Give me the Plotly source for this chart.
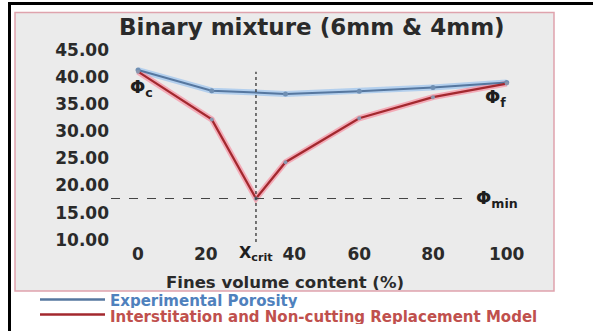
import plotly.graph_objects as go

# ---- data ----
fines_pct = [0, 20, 40, 60, 80, 100]
experimental_porosity = [41.3, 37.5, 36.9, 37.4, 38.1, 39.0]
model_x = [0, 20, 32, 40, 60, 80, 100]
model_porosity = [41.0, 32.2, 17.6, 24.3, 32.4, 36.3, 38.8]
x_crit = 32
phi_min = 17.6
phi_c_label_pos = (-2.6, 38.0)
phi_f_label_pos = (93.6, 36.2)
y_ticks = [10, 15, 20, 25, 30, 35, 40, 45]
x_ticks = [0, 20, 40, 60, 80, 100]
x_tick_labels = ["0", "20\u00a0\u00a0", "\u00a0\u00a0\u00a040", "60", "80", "100"]

title_text = "Binary mixture (6mm & 4mm)"
x_title = "Fines volume content (%)"
legend_names = ["Experimental Porosity", "Interstitation and Non-cutting Replacement Model"]

# ---- geometry (pixels) ----
W, H = 593, 331
L_PX, R_PX, T_PX, B_PX = 110, 529, 40, 242
X0_PX, X_SCALE = 138, 3.687      # px of x=0, px per unit
Y45_PX, Y_SCALE = 50, 5.42       # px of y=45, px per unit


def x_of_px(p):
    return (p - X0_PX) / X_SCALE


def y_of_px(p):
    return 45 - (p - Y45_PX) / Y_SCALE


def px_x(p):
    return (p - L_PX) / (R_PX - L_PX)


def px_y(p):
    return (B_PX - p) / (B_PX - T_PX)


FONT = "DejaVu Sans"
BLUE, BLUE_GLOW = "#56779f", "rgba(165,200,238,0.8)"
RED, RED_GLOW = "#a3282e", "rgba(245,150,165,0.75)"

fig = go.Figure()

# glow layers
fig.add_trace(go.Scatter(x=fines_pct, y=experimental_porosity, mode="lines",
                         line=dict(color=BLUE_GLOW, width=6), hoverinfo="skip", showlegend=False))
fig.add_trace(go.Scatter(x=model_x, y=model_porosity, mode="lines",
                         line=dict(color=RED_GLOW, width=6), hoverinfo="skip", showlegend=False))
# core lines
fig.add_trace(go.Scatter(x=fines_pct, y=experimental_porosity, mode="lines+markers",
                         line=dict(color=BLUE, width=2), marker=dict(size=5, color="#6f8fb3"),
                         name=legend_names[0], showlegend=False))
fig.add_trace(go.Scatter(x=model_x, y=model_porosity, mode="lines+markers",
                         line=dict(color=RED, width=2.2), marker=dict(size=4, color="#8a96ad"),
                         name=legend_names[1], showlegend=False))

shapes = [
    # outer black frame (only top and left edges fall inside the page)
    dict(type="rect", xref="paper", yref="paper", x0=px_x(9.5), x1=px_x(640), y0=px_y(380), y1=px_y(3.5),
         line=dict(color="black", width=3), fillcolor="rgba(0,0,0,0)", layer="below"),
    # pink frame with gray fill
    dict(type="rect", xref="paper", yref="paper", x0=px_x(15), x1=px_x(554), y0=px_y(291), y1=px_y(12.5),
         line=dict(color="#dfa3ad", width=1.5), fillcolor="#ebebeb", layer="below"),
    # vertical dotted at X_crit
    dict(type="line", xref="x", yref="y", x0=x_crit, x1=x_crit, y0=y_of_px(242), y1=41.0,
         line=dict(color="#333333", width=1.3, dash="dot")),
    # horizontal dashed at phi_min
    dict(type="line", xref="x", yref="y", x0=x_of_px(111), x1=x_of_px(471), y0=phi_min, y1=phi_min,
         line=dict(color="#444444", width=1.2, dash="dash")),
    # legend lines
    dict(type="line", xref="paper", yref="paper", x0=px_x(40), x1=px_x(105), y0=px_y(299.5), y1=px_y(299.5),
         line=dict(color=BLUE, width=2.5)),
    dict(type="line", xref="paper", yref="paper", x0=px_x(40), x1=px_x(105), y0=px_y(314.5), y1=px_y(314.5),
         line=dict(color=RED, width=2.5)),
]

annotations = [
    dict(text="<b>%s</b>" % title_text, xref="paper", yref="paper", x=px_x(312), y=px_y(27),
         xanchor="center", yanchor="middle", showarrow=False,
         font=dict(family=FONT, size=23, color="#2a2a2a")),
    dict(text="<b>%s</b>" % x_title, xref="paper", yref="paper", x=px_x(285), y=px_y(282),
         xanchor="center", yanchor="middle", showarrow=False, height=16,
         font=dict(family=FONT, size=16.5, color="#2a2a2a")),
    dict(text="<b>Φ<sub>c</sub></b>", xref="x", yref="y", x=phi_c_label_pos[0], y=phi_c_label_pos[1],
         xanchor="left", yanchor="middle", showarrow=False,
         font=dict(family=FONT, size=18, color="#1e1e1e")),
    dict(text="<b>Φ<sub>f</sub></b>", xref="x", yref="y", x=phi_f_label_pos[0], y=phi_f_label_pos[1],
         xanchor="left", yanchor="middle", showarrow=False,
         font=dict(family=FONT, size=18, color="#1e1e1e")),
    dict(text="<b>Φ<sub>min</sub></b>", xref="x", yref="y", x=x_of_px(474), y=phi_min,
         xanchor="left", yanchor="middle", showarrow=False,
         font=dict(family=FONT, size=18, color="#1e1e1e")),
    dict(text="<b>X<sub>crit</sub></b>", xref="paper", yref="paper", x=px_x(274), y=px_y(253),
         xanchor="right", yanchor="middle", showarrow=False, borderpad=0,
         font=dict(family=FONT, size=16, color="#1e1e1e")),
    dict(text="<b>%s</b>" % legend_names[0], xref="paper", yref="paper", x=px_x(109), y=px_y(300),
         xanchor="left", yanchor="middle", showarrow=False, height=15, borderpad=0,
         font=dict(family=FONT, size=15, color="#4f81bd")),
    dict(text="<b>%s</b>" % legend_names[1], xref="paper", yref="paper", x=px_x(109), y=px_y(316),
         xanchor="left", yanchor="middle", showarrow=False, height=15, borderpad=0,
         font=dict(family=FONT, size=15, color="#c0504d")),
]

fig.update_layout(
    width=W, height=H,
    margin=dict(l=L_PX, r=W - R_PX, t=T_PX, b=H - B_PX, pad=0),
    paper_bgcolor="white", plot_bgcolor="#ebebeb",
    shapes=shapes, annotations=annotations, showlegend=False,
    xaxis=dict(range=[x_of_px(L_PX), x_of_px(R_PX)], tickmode="array", tickvals=x_ticks,
               ticktext=["<b>%s</b>" % v for v in x_tick_labels], showgrid=False, zeroline=False,
               showline=False, ticks="", tickfont=dict(family=FONT, size=17, color="#2a2a2a")),
    yaxis=dict(range=[y_of_px(B_PX), y_of_px(T_PX)], tickmode="array", tickvals=y_ticks,
               ticktext=["<b>%.2f</b>" % v for v in y_ticks], showgrid=False, zeroline=False,
               showline=False, ticks="", tickfont=dict(family=FONT, size=17, color="#2a2a2a")),
)

fig.write_html("out.html", config={"displayModeBar": False},
               post_script="document.body.style.margin='0';document.body.style.overflow='hidden';")
